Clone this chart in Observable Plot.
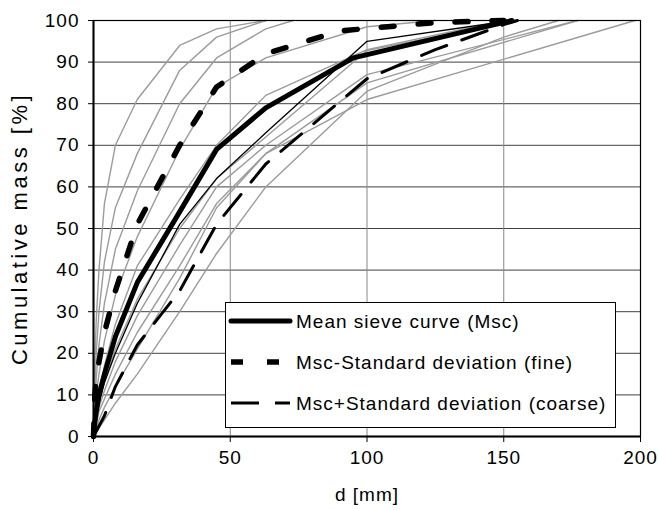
<!DOCTYPE html>
<html><head><meta charset="utf-8">
<script src="https://cdn.jsdelivr.net/npm/d3@7"></script>
<script src="https://cdn.jsdelivr.net/npm/@observablehq/plot@0.6"></script>
<style>
body{margin:0;background:#fff;font-family:"Liberation Sans",Arial,sans-serif}
#wrap{position:relative;width:658px;height:510px}
#wrap svg text{letter-spacing:1px}
#legend{position:absolute;left:225px;top:302px}
</style></head><body><div id="wrap"></div>
<script>
// sieve curves of individual samples (d [mm], cumulative mass [%])
const greyCurves = [
 [[0,0],[0.5,18],[1,28],[2,40],[4,56],[8,70],[16,81],[31.5,94],[45,98],[63,100]],
 [[0,0],[0.5,12],[1,20],[2,30],[4,42],[8,55],[16,68],[31.5,88],[45,96],[63,100]],
 [[0,0],[0.5,8],[1,14],[2,22],[4,32],[8,45],[16,59],[31.5,80],[45,91],[63,98],[73,100]],
 [[0,0],[0.5,6],[1,10],[2,15],[4,23],[8,34],[16,48],[31.5,69],[45,84],[63,91],[100,98.5],[125,100]],
 [[0,0],[0.5,4],[1,7],[2,11],[4,17],[8,27],[16,41],[31.5,57],[45,70],[63,82],[100,93],[150,100]],
 [[0,0],[0.5,3],[1,5],[2,8],[4,13],[8,21],[16,33],[31.5,50],[45,62],[63,72],[100,92.8],[155,100]],
 [[0,0],[0.5,2],[1,4],[2,7],[4,11],[8,18],[16,29],[31.5,46],[45,60],[63,70],[100,87],[177,100]],
 [[0,0],[1,3],[2,6],[4,9],[8,15],[16,25],[31.5,41],[45,56],[63,68],[100,85],[177,100]],
 [[0,0],[1,2],[2,4],[4,7],[8,12],[16,21],[31.5,38],[45,55],[63,68],[100,81],[198,100]],
 [[0,0],[4,4],[8,8],[16,15],[31.5,30],[45,44],[63,60],[100,83],[150,96],[170,100]]
];
const sampleCurve = [[0,0],[1,5],[2,8],[4,13],[8,20],[16,32],[31.5,51],[45,62],[63,73],[100,95],[153,100]];
const meanCurve = [[0,1],[1,6],[2,10],[4,15],[8,24],[16,37],[31.5,54],[45,69],[63,79],[95,91],[153,100]];
const fineCurve = [[0,0],[0.5,10],[1,14],[2,18],[4,25],[8,35],[16,51],[31.5,70],[45,84],[63,92],[90,97.5],[125,99.5],[150,100]];
const coarseCurve = [[0,0],[4,5],[8,12],[16,22],[31.5,35],[45,51],[63,65.5],[100,86],[125,93],[150,99],[155,100]];
const xTicks = [0,50,100,150,200];
const yTicks = [0,10,20,30,40,50,60,70,80,90,100];
const legendLabels = ["Mean sieve curve (Msc)","Msc-Standard deviation (fine)","Msc+Standard deviation (coarse)"];

const toRows = c => c.map(([d,p]) => ({d,p}));
const greyRows = greyCurves.flatMap((c,i) => c.map(([d,p]) => ({id:i,d,p})));

const chart = Plot.plot({
  width:658, height:510,
  marginLeft:93, marginRight:18, marginTop:20, marginBottom:74,
  style:{fontFamily:'"Liberation Sans",Arial,sans-serif', fontSize:"19px", color:"#000", background:"#fff"},
  x:{domain:[0,200], ticks:xTicks, label:"d [mm]", labelAnchor:"center", labelArrow:"none", tickSize:6, tickPadding:8, labelOffset:64},
  y:{domain:[0,100], ticks:yTicks, label:"Cumulative mass [%]", labelAnchor:"center", labelArrow:"none", tickSize:5, tickPadding:9, labelOffset:82},
  marks:[
    Plot.gridY(yTicks.slice(1,-1), {stroke:"#404040", strokeOpacity:1}),
    Plot.gridX([50,100,150], {stroke:"#888", strokeOpacity:1}),
    Plot.line(greyRows, {x:"d", y:"p", z:"id", stroke:"#9b9b9b", strokeWidth:1.4}),
    Plot.line(toRows(sampleCurve), {x:"d", y:"p", stroke:"#000", strokeWidth:1.3}),
    Plot.line(toRows(coarseCurve), {x:"d", y:"p", stroke:"#000", strokeWidth:3, strokeDasharray:"27,16"}),
    Plot.line(toRows(fineCurve), {x:"d", y:"p", stroke:"#000", strokeWidth:5.5, strokeDasharray:"13,24"}),
    Plot.line(toRows(meanCurve), {x:"d", y:"p", stroke:"#000", strokeWidth:5, strokeLinecap:"round", strokeLinejoin:"round"}),
    Plot.frame({stroke:"#000", strokeWidth:1.2}),
    Plot.ruleX([0], {stroke:"#000", strokeWidth:2}),
    Plot.ruleY([0], {stroke:"#000", strokeWidth:2}),
    Plot.axisX({ticks:xTicks, tickSize:6, tickPadding:8, label:"d [mm]", labelAnchor:"center", labelArrow:"none", labelOffset:64}),
    Plot.axisY({ticks:yTicks, tickSize:5, tickPadding:9, label:"Cumulative mass [%]", labelAnchor:"center", labelArrow:"none", labelOffset:82})
  ]
});
const wrap = document.getElementById("wrap");
wrap.appendChild(chart);
d3.select(chart).selectAll('g[aria-label="y-axis label"] text')
  .style("font-size","22px").style("letter-spacing","3.5px");

// legend
const lg = d3.create("svg").attr("id","legend").attr("width",392).attr("height",127)
  .style("font-family",'"Liberation Sans",Arial,sans-serif').style("font-size","19px");
lg.append("rect").attr("x",0.5).attr("y",0.5).attr("width",390).attr("height",125).attr("fill","#fff").attr("stroke","#000");
const styles = [
  {w:5, dash:null, cap:"round"},
  {w:5.5, dash:"12,24", cap:"butt"},
  {w:3, dash:"28,16", cap:"butt"}
];
legendLabels.forEach((t,i) => {
  const y = 19 + i*41;
  const s = styles[i];
  const ln = lg.append("line").attr("x1",6).attr("x2",65).attr("y1",y).attr("y2",y)
    .attr("stroke","#000").attr("stroke-width",s.w).attr("stroke-linecap",s.cap);
  if (s.dash) ln.attr("stroke-dasharray", s.dash);
  lg.append("text").attr("x",71).attr("y",y).attr("dy","0.35em").style("letter-spacing","1px").text(t);
});
wrap.appendChild(lg.node());
</script>
</body></html>
